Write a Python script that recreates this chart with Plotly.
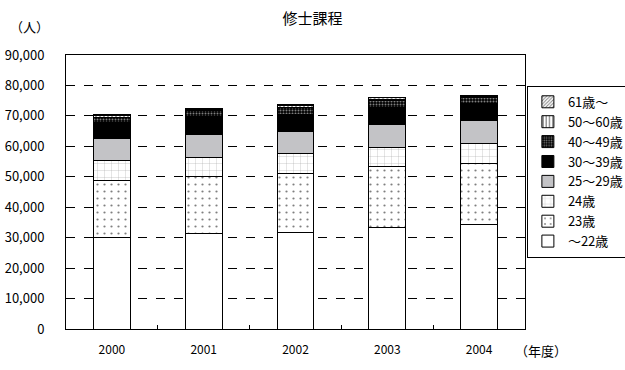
import plotly.graph_objects as go

years = ["2000", "2001", "2002", "2003", "2004"]
groups = ["～22歳", "23歳", "24歳", "25～29歳", "30～39歳", "40～49歳", "50～60歳", "61歳～"]
v_22 = [30000, 31400, 31800, 33400, 34400]
v_23 = [18800, 18800, 19300, 20000, 20000]
v_24 = [6600, 6200, 6600, 6300, 6400]
v_25_29 = [7100, 7400, 7100, 7400, 7600]
v_30_39 = [5200, 5900, 5800, 5700, 5600]
v_40_49 = [1800, 2000, 2200, 2100, 2000]
v_50_60 = [500, 500, 600, 600, 500]
v_61 = [300, 300, 400, 400, 300]
values = [v_22, v_23, v_24, v_25_29, v_30_39, v_40_49, v_50_60, v_61]

styles = [
    dict(color="white", pattern=dict(shape="")),
    dict(color="white", pattern=dict(shape=".", fgcolor="black", bgcolor="white", size=7, solidity=0.08)),
    dict(color="white", pattern=dict(shape="+", fgcolor="#444444", bgcolor="white", size=7, solidity=0.08)),
    dict(color="#C3C3C6", pattern=dict(shape="")),
    dict(color="black", pattern=dict(shape="")),
    dict(color="black", pattern=dict(shape=".", fgcolor="white", bgcolor="black", size=3, solidity=0.35)),
    dict(color="white", pattern=dict(shape="|", fgcolor="black", bgcolor="white", size=4, solidity=0.4)),
    dict(color="white", pattern=dict(shape="/", fgcolor="black", bgcolor="white", size=3, solidity=0.4)),
]

font = "Noto Sans CJK JP"
fig = go.Figure()
for name, vals, st in zip(groups, values, styles):
    fig.add_trace(go.Bar(
        x=years, y=vals, name=name, width=0.4,
        marker=dict(color=st["color"], pattern=st["pattern"],
                    line=dict(color="black", width=1)),
    ))

fig.update_layout(
    barmode="stack",
    width=625, height=370,
    margin=dict(l=66, r=100, t=55, b=41, autoexpand=False),
    paper_bgcolor="white", plot_bgcolor="white",
    font=dict(family=font, size=12, color="black"),
    title=dict(text="修士課程", x=0.5, xanchor="center", y=0.95, yanchor="middle",
               font=dict(size=15, family=font)),
    showlegend=True,
    legend=dict(traceorder="reversed", xref="container", yref="container",
                x=0.843, xanchor="left", y=0.768, yanchor="top",
                bordercolor="black", borderwidth=1, bgcolor="white",
                font=dict(size=13, family=font), itemwidth=30,
                tracegroupgap=0),
    xaxis=dict(showline=True, linecolor="black", linewidth=1, mirror=True,
               ticks="inside", tickson="boundaries", ticklen=4, tickcolor="black",
               showgrid=False, tickfont=dict(size=12), automargin=False,
               ticklabelstandoff=10),
    yaxis=dict(range=[0, 90000], dtick=10000, tickformat=",", showline=True,
               linecolor="black", linewidth=1, mirror=True,
               showgrid=True, gridcolor="black", griddash="dash", gridwidth=1,
               ticks="", ticklabelstandoff=18, tickfont=dict(size=13), zeroline=False,
               automargin=False),
    annotations=[
        dict(text="（人）", x=0.0, y=1.0, xref="paper", yref="paper",
             xshift=-58, yshift=17, xanchor="left", yanchor="bottom",
             showarrow=False, font=dict(size=13, family=font)),
        dict(text="（年度）", x=1.0, y=0.0, xref="paper", yref="paper",
             xshift=-12, yshift=-21, xanchor="left", yanchor="middle",
             showarrow=False, font=dict(size=13, family=font)),
    ],
)

fig.write_html("out.html", config={"displayModeBar": False},
               post_script="document.body.style.margin='0';")
